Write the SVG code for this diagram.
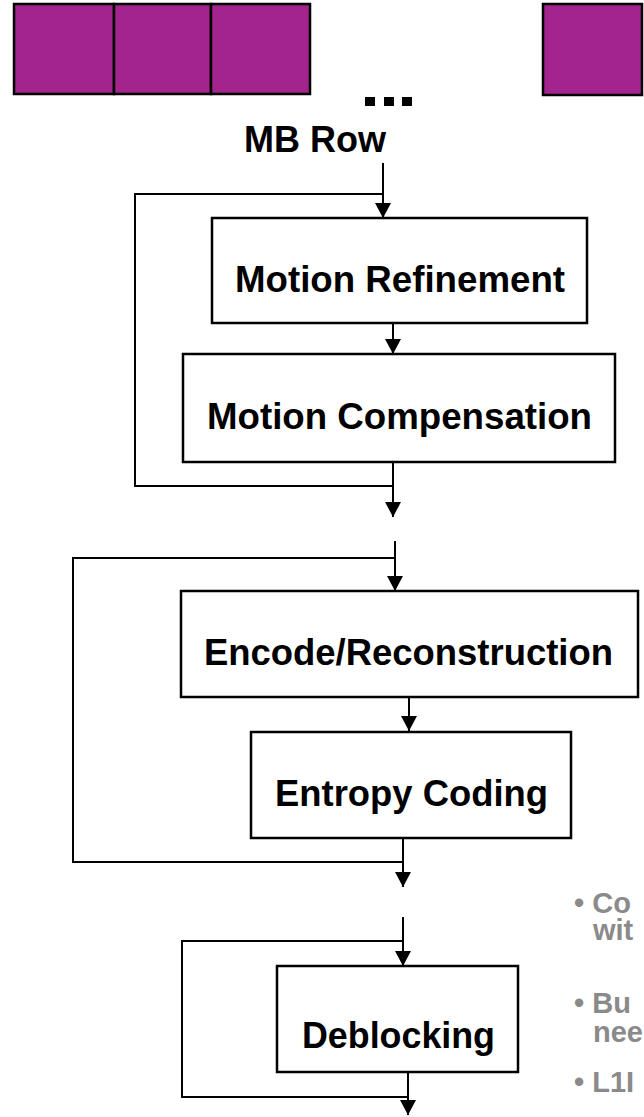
<svg xmlns="http://www.w3.org/2000/svg" width="644" height="1117" viewBox="0 0 644 1117">
<defs>
<style>
.mb{fill:#a2248c;stroke:#000;stroke-width:2.5}
.box{fill:#fff;stroke:#000;stroke-width:2.5}
.lbl{font-family:"Liberation Sans",Arial,sans-serif;font-weight:bold;font-size:36px;fill:#000}
.gray{font-family:"Liberation Sans",Arial,sans-serif;font-weight:bold;font-size:29px;fill:#8a8a8a}
.ln{fill:none;stroke:#000;stroke-width:2}
</style>
<marker id="ah" markerUnits="userSpaceOnUse" markerWidth="16" markerHeight="16" viewBox="0 0 16 16" refX="15" refY="8" orient="auto">
<path d="M0,0 L15,8 L0,16 Z" fill="#000"/>
</marker>
</defs>
<rect width="644" height="1117" fill="#fff"/>
<g id="mb-row-blocks">
<rect class="mb" x="14" y="4" width="100" height="90"/>
<rect class="mb" x="114" y="4" width="97" height="90"/>
<rect class="mb" x="211" y="4" width="99" height="90"/>
<rect class="mb" x="543" y="4" width="99" height="91"/>
<rect x="365" y="97" width="10" height="9" fill="#000"/>
<rect x="384" y="97" width="10" height="9" fill="#000"/>
<rect x="402" y="97" width="10" height="9" fill="#000"/>
<text class="lbl" x="315" y="152" text-anchor="middle" textLength="142" lengthAdjust="spacingAndGlyphs">MB Row</text>
</g>
<g id="connectors">
<line class="ln" x1="383" y1="163" x2="383" y2="218" marker-end="url(#ah)"/>
<polyline class="ln" points="383,194 135,194 135,486 393,486"/>
<line class="ln" x1="393" y1="323" x2="393" y2="354" marker-end="url(#ah)"/>
<line class="ln" x1="393" y1="462" x2="393" y2="517" marker-end="url(#ah)"/>
<line class="ln" x1="395" y1="541" x2="395" y2="591" marker-end="url(#ah)"/>
<polyline class="ln" points="395,558 73,558 73,862 403,862"/>
<line class="ln" x1="409" y1="697" x2="409" y2="731" marker-end="url(#ah)"/>
<line class="ln" x1="403" y1="838" x2="403" y2="887" marker-end="url(#ah)"/>
<line class="ln" x1="403" y1="917" x2="403" y2="966" marker-end="url(#ah)"/>
<polyline class="ln" points="403,941 182,941 182,1097 408,1097"/>
<line class="ln" x1="408" y1="1072" x2="408" y2="1115" marker-end="url(#ah)"/>
</g>
<g id="motion-refinement">
<rect class="box" x="212" y="218" width="375" height="105"/>
<text class="lbl" x="400" y="292" text-anchor="middle" textLength="330" lengthAdjust="spacingAndGlyphs">Motion Refinement</text>
</g>
<g id="motion-compensation">
<rect class="box" x="183" y="354" width="432" height="108"/>
<text class="lbl" x="399.5" y="429" text-anchor="middle" textLength="385" lengthAdjust="spacingAndGlyphs">Motion Compensation</text>
</g>
<g id="encode-reconstruction">
<rect class="box" x="181" y="591" width="457" height="106"/>
<text class="lbl" x="408.5" y="665" text-anchor="middle" textLength="409" lengthAdjust="spacingAndGlyphs">Encode/Reconstruction</text>
</g>
<g id="entropy-coding">
<rect class="box" x="251" y="732" width="320" height="106"/>
<text class="lbl" x="411.5" y="806" text-anchor="middle" textLength="273" lengthAdjust="spacingAndGlyphs">Entropy Coding</text>
</g>
<g id="deblocking">
<rect class="box" x="277" y="966" width="241" height="106"/>
<text class="lbl" x="398.5" y="1048" text-anchor="middle" textLength="193" lengthAdjust="spacingAndGlyphs">Deblocking</text>
</g>
<g id="notes">
<text class="gray" x="574" y="913">• Co</text>
<text class="gray" x="593" y="940">wit</text>
<text class="gray" x="574" y="1013">• Bu</text>
<text class="gray" x="593" y="1042">nee</text>
<text class="gray" x="574" y="1092">• L1I</text>
</g>
</svg>
